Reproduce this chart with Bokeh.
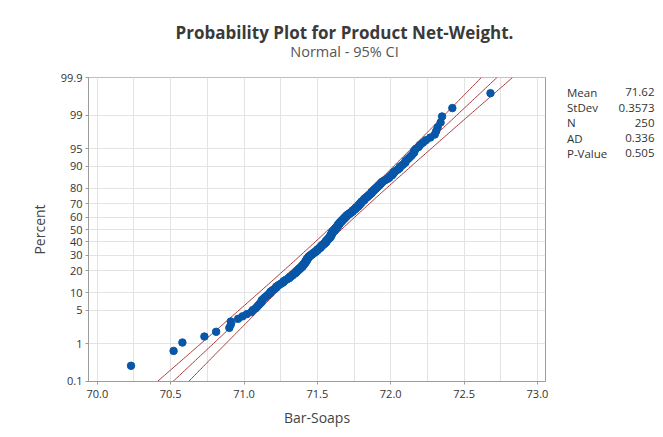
import math
from bokeh.plotting import figure
from bokeh.models import Range1d, FixedTicker
from bokeh.layouts import column, row
from bokeh.embed import file_html
from bokeh.resources import INLINE

# ---- data (sorted net weights) ----
net_weight = [
    70.23, 70.52, 70.58, 70.73, 70.81, 70.90, 70.91, 70.91, 70.96, 70.99,
    71.02, 71.05, 71.06, 71.08, 71.09, 71.10, 71.11, 71.12, 71.12, 71.13,
    71.14, 71.15, 71.16, 71.17, 71.18, 71.18, 71.19, 71.20, 71.21, 71.22,
    71.22, 71.23, 71.24, 71.25, 71.26, 71.27, 71.27, 71.28, 71.29, 71.30,
    71.31, 71.31, 71.32, 71.33, 71.33, 71.34, 71.35, 71.35, 71.36, 71.36,
    71.37, 71.37, 71.38, 71.38, 71.39, 71.39, 71.40, 71.40, 71.40, 71.41,
    71.41, 71.41, 71.42, 71.42, 71.42, 71.42, 71.43, 71.43, 71.43, 71.43,
    71.44, 71.44, 71.44, 71.45, 71.45, 71.46, 71.46, 71.47, 71.47, 71.48,
    71.48, 71.49, 71.49, 71.50, 71.50, 71.50, 71.51, 71.51, 71.52, 71.52,
    71.52, 71.53, 71.53, 71.53, 71.54, 71.54, 71.55, 71.55, 71.55, 71.56,
    71.56, 71.56, 71.56, 71.57, 71.57, 71.57, 71.58, 71.58, 71.58, 71.59,
    71.59, 71.59, 71.59, 71.59, 71.59, 71.60, 71.60, 71.60, 71.60, 71.60,
    71.61, 71.61, 71.61, 71.62, 71.62, 71.62, 71.62, 71.63, 71.63, 71.63,
    71.63, 71.64, 71.64, 71.64, 71.64, 71.65, 71.65, 71.65, 71.65, 71.66,
    71.66, 71.66, 71.67, 71.67, 71.67, 71.68, 71.68, 71.68, 71.69, 71.69,
    71.69, 71.70, 71.70, 71.70, 71.71, 71.71, 71.72, 71.72, 71.73, 71.73,
    71.74, 71.74, 71.74, 71.75, 71.75, 71.76, 71.76, 71.76, 71.77, 71.77,
    71.78, 71.78, 71.78, 71.79, 71.79, 71.79, 71.80, 71.80, 71.80, 71.81,
    71.81, 71.82, 71.82, 71.82, 71.83, 71.83, 71.84, 71.84, 71.85, 71.85,
    71.86, 71.86, 71.87, 71.87, 71.87, 71.88, 71.88, 71.89, 71.89, 71.90,
    71.90, 71.91, 71.91, 71.92, 71.92, 71.93, 71.93, 71.94, 71.94, 71.95,
    71.96, 71.97, 71.98, 71.99, 71.99, 72.00, 72.01, 72.01, 72.02, 72.02,
    72.03, 72.04, 72.05, 72.06, 72.06, 72.07, 72.08, 72.09, 72.10, 72.10,
    72.11, 72.12, 72.13, 72.14, 72.15, 72.16, 72.16, 72.17, 72.19, 72.20,
    72.22, 72.24, 72.27, 72.30, 72.31, 72.32, 72.34, 72.35, 72.42, 72.68,
]

fit_mean = 71.62
fit_stdev = 0.3573
n_obs = 250
conf_level = 0.95

stat_names = ["Mean", "StDev", "N", "AD", "P-Value"]
stat_values = ["71.62", "0.3573", "250", "0.336", "0.505"]

percent_ticks = [0.1, 1, 5, 10, 20, 30, 40, 50, 60, 70, 80, 90, 95, 99, 99.9]
percent_labels = ["0.1", "1", "5", "10", "20", "30", "40", "50", "60", "70",
                  "80", "90", "95", "99", "99.9"]
x_ticks = [70.0, 70.5, 71.0, 71.5, 72.0, 72.5, 73.0]
x_labels = ["70.0", "70.5", "71.0", "71.5", "72.0", "72.5", "73.0"]
x_minor_grid = [70.25, 70.75, 71.25, 71.75, 72.25, 72.75]

title_text = "Probability Plot for Product Net-Weight."
subtitle_text = "Normal - 95% CI"
x_title = "Bar-Soaps"
y_title = "Percent"


def norm_ppf(p):
    lo, hi = -10.0, 10.0
    for _ in range(100):
        mid = 0.5 * (lo + hi)
        if 0.5 * (1 + math.erf(mid / math.sqrt(2))) < p:
            lo = mid
        else:
            hi = mid
    return 0.5 * (lo + hi)


# median ranks -> normal scores
ys = [norm_ppf((i + 1 - 0.3) / (n_obs + 0.4)) for i in range(n_obs)]

z_lo = norm_ppf(0.001)
z_hi = norm_ppf(0.999)
zc = norm_ppf(1 - (1 - conf_level) / 2)

line_z = [z_lo + (z_hi - z_lo) * k / 200 for k in range(201)]
fit_x = [fit_mean + fit_stdev * z for z in line_z]
half = [zc * fit_stdev * math.sqrt(1 / n_obs + z * z / (2 * n_obs)) for z in line_z]
ci_lo = [f - h for f, h in zip(fit_x, half)]
ci_hi = [f + h for f, h in zip(fit_x, half)]

FONT = "Open Sans"
GRID = "#e3e3e3"
FRAME = "#9c9c9c"
RED = "#a83a3a"
BLUE = "#0856a8"

TOTAL_W = 655
TITLE_H = 62
MAIN_W = 560
BODY_H = 367
BORDER_T = 15
BORDER_B = 48


def blank(fig):
    fig.axis.visible = False
    fig.grid.visible = False
    fig.outline_line_color = None
    fig.background_fill_color = "white"
    fig.border_fill_color = "white"
    return fig


# ---- title strip ----
tfig = blank(figure(width=TOTAL_W, height=TITLE_H, output_backend="svg",
                    toolbar_location=None, title=None,
                    x_range=Range1d(0, TOTAL_W), y_range=Range1d(TITLE_H, 0),
                    min_border=0))
tfig.text(x=[344], y=[32], text=[title_text], text_align="center",
          text_baseline="middle", text_font={"value": FONT},
          text_font_size="17px", text_font_style="bold", text_color="#3a3a3a")
tfig.text(x=[344], y=[50.5], text=[subtitle_text], text_align="center",
          text_baseline="middle", text_font={"value": FONT},
          text_font_size="14.5px", text_color="#555555")

# ---- main probability plot ----
p = figure(width=MAIN_W, height=BODY_H, output_backend="svg", toolbar_location=None,
           title=None,
           x_range=Range1d(69.94, 73.055), y_range=Range1d(z_lo - 1e-4, z_hi + 1e-4),
           min_border_left=88, min_border_right=15, min_border_top=BORDER_T,
           min_border_bottom=BORDER_B)
p.background_fill_color = "white"
p.border_fill_color = "white"
p.outline_line_color = FRAME
p.outline_line_width = 1

p.xaxis.ticker = FixedTicker(ticks=x_ticks, minor_ticks=x_minor_grid)
p.xaxis.major_label_overrides = {t: l for t, l in zip(x_ticks, x_labels)}
y_tick_z = [norm_ppf(t / 100) for t in percent_ticks]
p.yaxis.ticker = FixedTicker(ticks=y_tick_z)
p.yaxis.major_label_overrides = {z: l for z, l in zip(y_tick_z, percent_labels)}

for ax in (p.xaxis[0], p.yaxis[0]):
    ax.axis_line_color = FRAME
    ax.major_tick_line_color = FRAME
    ax.major_tick_in = 0
    ax.major_tick_out = 3
    ax.minor_tick_line_color = None
    ax.major_label_text_font = FONT
    ax.major_label_text_font_size = "11px"
    ax.major_label_text_color = "#333333"
    ax.axis_label_text_font = FONT
    ax.axis_label_text_font_size = "14px"
    ax.axis_label_text_font_style = "normal"
    ax.axis_label_text_color = "#444444"

p.xaxis.axis_label = x_title
p.yaxis.axis_label = y_title
p.xaxis.major_label_standoff = 4
p.xaxis.axis_label_standoff = 7
p.yaxis.major_label_standoff = 3
p.yaxis.axis_label_standoff = 9

p.xgrid.grid_line_color = GRID
p.xgrid.minor_grid_line_color = GRID
p.ygrid.grid_line_color = GRID
p.xgrid.ticker = FixedTicker(ticks=x_ticks, minor_ticks=x_minor_grid)
p.ygrid.ticker = FixedTicker(ticks=y_tick_z)

p.line(fit_x, line_z, line_color=RED, line_width=1)
p.line(ci_lo, line_z, line_color=RED, line_width=1)
p.line(ci_hi, line_z, line_color=RED, line_width=1)

p.scatter(net_weight, ys, size=7.5, marker="circle", fill_color=BLUE,
          line_color=BLUE)

# ---- statistics box (its frame is aligned with the main frame by the row) ----
sfig = blank(figure(width=TOTAL_W - MAIN_W, height=BODY_H, output_backend="svg",
                    toolbar_location=None, title=None,
                    x_range=Range1d(MAIN_W, TOTAL_W),
                    y_range=Range1d(TITLE_H + BODY_H - BORDER_B, TITLE_H + BORDER_T),
                    min_border=0))
row_y = [91.7, 107.0, 122.4, 137.6, 152.8]
sfig.text(x=[566.5] * len(stat_names), y=row_y, text=stat_names,
          text_align="left", text_baseline="middle", text_font={"value": FONT},
          text_font_size="11.5px", text_color="#333333")
sfig.text(x=[654] * len(stat_values), y=row_y, text=stat_values,
          text_align="right", text_baseline="middle", text_font={"value": FONT},
          text_font_size="11.5px", text_color="#333333")

layout = column(tfig, row(p, sfig, spacing=0), spacing=0)
open("out.html", "w").write(file_html(layout, INLINE))
